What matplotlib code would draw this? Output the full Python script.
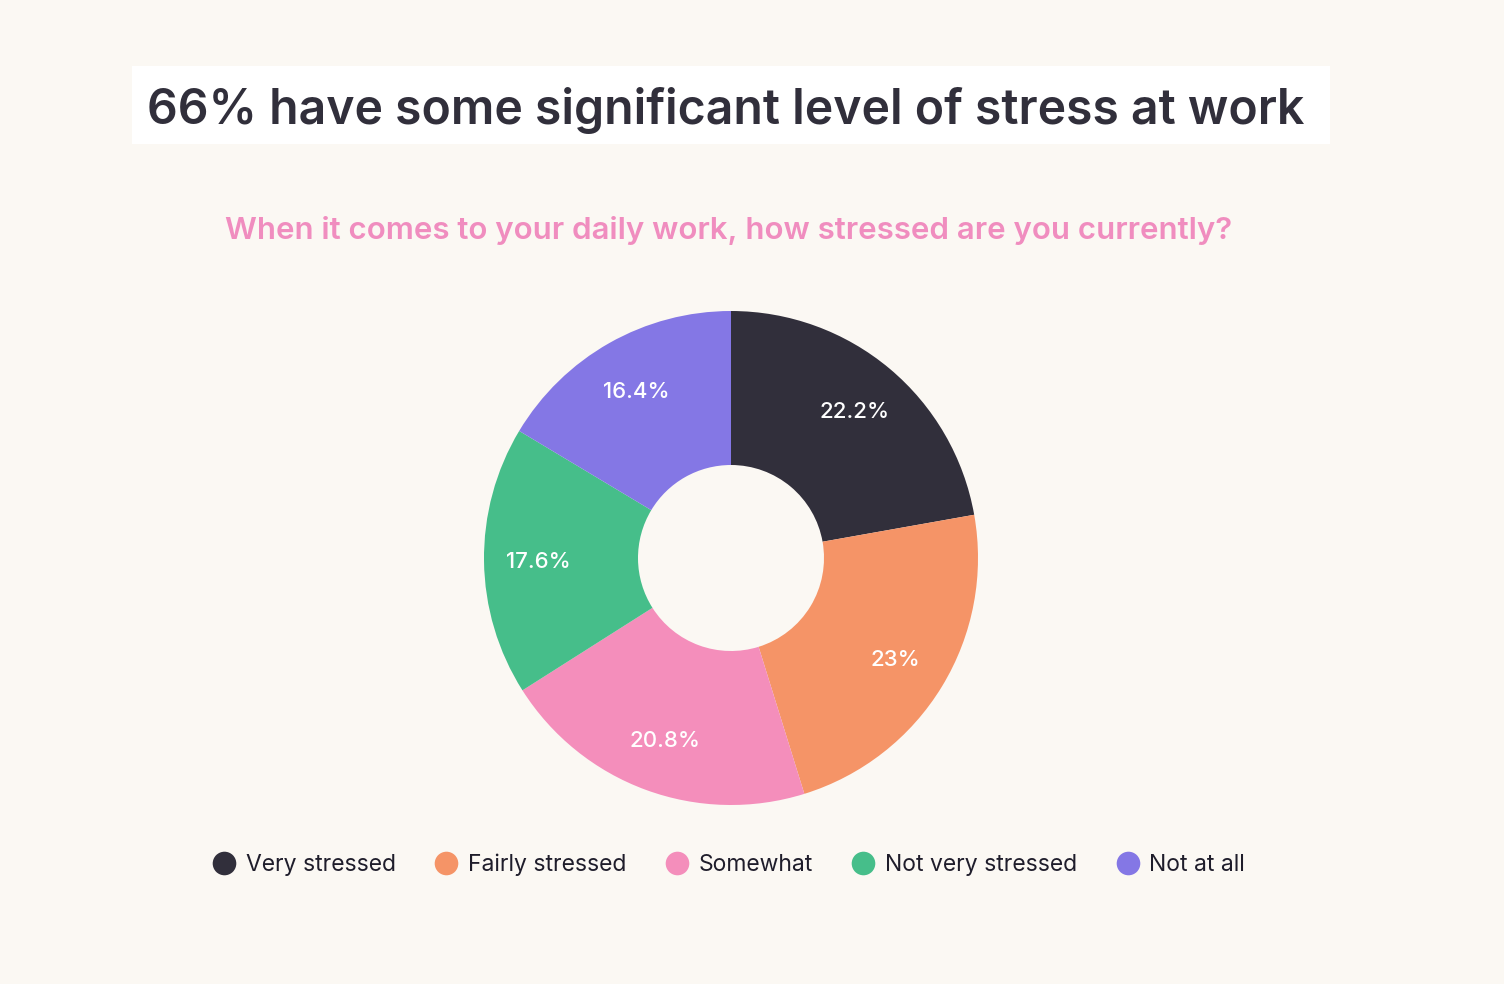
import matplotlib
matplotlib.use("Agg")
import matplotlib.pyplot as plt
import numpy as np
from matplotlib.lines import Line2D
from matplotlib.patches import Rectangle

categories = ["Very stressed", "Fairly stressed", "Somewhat", "Not very stressed", "Not at all"]
shares = [22.2, 23.0, 20.8, 17.6, 16.4]
share_labels = ["22.2%", "23%", "20.8%", "17.6%", "16.4%"]
colors = ["#312F3B", "#F59467", "#F48EBB", "#46BE8A", "#8477E5"]

title = "66% have some significant level of stress at work"
subtitle = "When it comes to your daily work, how stressed are you currently?"

BG = "#FBF8F3"
plt.rcParams["font.family"] = ["Inter", "DejaVu Sans"]

W, H = 1504, 984
fig = plt.figure(figsize=(W / 100, H / 100), dpi=100, facecolor=BG)

# white title box
fig.patches.append(Rectangle((132 / W, 1 - 144 / H), (1330 - 132) / W, 78 / H,
                             transform=fig.transFigure, facecolor="white",
                             edgecolor="none", zorder=0))
fig.text(147 / W, 1 - 124 / H, title, fontsize=34.7, fontweight="semibold",
         color="#312F3B", va="baseline", ha="left")
fig.text(729 / W, 1 - 239 / H, subtitle, fontsize=22.5, fontweight="semibold",
         color="#F08DBF", va="baseline", ha="center")

# donut
cx, cy, r = 731, 558, 247
ax = fig.add_axes([(cx - r) / W, (H - cy - r) / H, 2 * r / W, 2 * r / H])
wedges, _ = ax.pie(shares, colors=colors, startangle=90, counterclock=False,
                   radius=1, wedgeprops=dict(width=1 - 93 / 247, edgecolor="none"))
for w, lab in zip(wedges, share_labels):
    ang = np.deg2rad((w.theta1 + w.theta2) / 2)
    ax.text(0.78 * np.cos(ang), 0.78 * np.sin(ang), lab, color="white",
            fontsize=16, fontweight="medium", ha="center", va="center_baseline")
ax.set_xlim(-1, 1)
ax.set_ylim(-1, 1)
ax.set_aspect("equal")
ax.axis("off")

handles = [Line2D([], [], marker="o", linestyle="none", markersize=17,
                  markerfacecolor=c, markeredgecolor="none") for c in colors]
fig.legend(handles, categories, loc="center", bbox_to_anchor=(729 / W, 1 - 865 / H),
           ncol=5, frameon=False, fontsize=16.5, handletextpad=0.45,
           columnspacing=1.7, handlelength=1.0, labelcolor="#1F1D2B")

fig.savefig("out.png", dpi=100, facecolor=BG)
